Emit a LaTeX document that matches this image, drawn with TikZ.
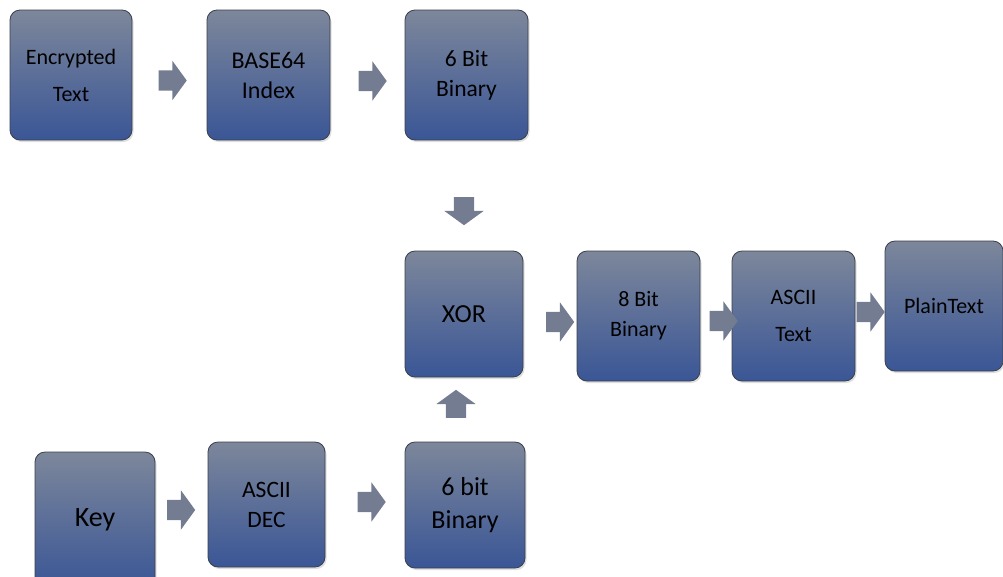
\documentclass[tikz,border=0pt]{standalone}
\usepackage{fontspec}
\setmainfont{Carlito}
\usepackage{xcolor}
\usetikzlibrary{shapes.arrows,shadows}
\definecolor{boxtop}{HTML}{7D879B}
\definecolor{boxbottom}{HTML}{3A5696}
\definecolor{boxline}{HTML}{3A3F4A}
\definecolor{arrowgray}{HTML}{737C90}

\begin{document}
\begin{tikzpicture}[
        x=1pt, y=-1pt,
        box/.style={
            draw=boxline,
            line width=0.8pt,
            rounded corners=10pt,
            top color=boxtop,
            bottom color=boxbottom,
            align=center,
            font=\fontsize{22}{30}\selectfont,
            text=black,
            drop shadow={opacity=0.25, shadow xshift=1.5pt, shadow yshift=-2pt}
        },
        blockarrow/.style={
            single arrow,
            fill=arrowgray,
            draw=none,
            inner sep=0pt,
            minimum height=28pt,
            single arrow head extend=9.5pt,
            single arrow tip angle=108
        }
    ]
        \useasboundingbox (0,0) rectangle (1003,576);

        % top row
        \node[box, minimum width=122pt, minimum height=130pt] (enc) at (71,75)
            {Encrypted\\[7pt]Text};
        \node[box, minimum width=123pt, minimum height=130pt,
            font=\fontsize{24}{30}\selectfont] (base64) at (268.5,75)
            {BASE64\\Index};
        \node[box, minimum width=123pt, minimum height=130pt,
            font=\fontsize{23.5}{30}\selectfont] (bin6) at (466.5,75)
            {6 Bit\\Binary};

        % middle row
        \node[box, minimum width=118pt, minimum height=126pt,
            font=\fontsize{26}{30}\selectfont] (xor) at (464,314) {XOR};
        \node[box, minimum width=123pt, minimum height=130pt] (bin8) at (638.5,316)
            {8 Bit\\Binary};
        \node[box, minimum width=123pt, minimum height=130pt] (asciitext) at (793.5,316)
            {ASCII\\[7pt]Text};
        \node[box, minimum width=118pt, minimum height=130pt] (plain) at (944,306) {PlainText};

        % bottom row
        \node[box, minimum width=120pt, minimum height=136pt,
            font=\fontsize{28}{30}\selectfont] (key) at (95,520) {Key};
        \node[box, minimum width=117pt, minimum height=125pt,
            font=\fontsize{23.5}{30}\selectfont] (asciidec) at (266.5,504.5)
            {ASCII\\DEC};
        \node[box, minimum width=120pt, minimum height=126pt,
            font=\fontsize{26}{33}\selectfont] (bin6key) at (465,505)
            {6 bit\\Binary};

        % block arrows
        \node[blockarrow] (encToBase) at (169,80.5) {\rule{0pt}{20pt}};
        \node[blockarrow] (baseToBin) at (369,81) {\rule{0pt}{20pt}};
        \node[blockarrow, rotate=-90] (binToXor) at (464,207.5) {\rule{0pt}{20pt}};
        \node[blockarrow] (xorToBin) at (556.5,322) {\rule{0pt}{20pt}};
        \node[blockarrow] (binToAscii) at (720,321) {\rule{0pt}{20pt}};
        \node[blockarrow] (asciiToPlain) at (867,312) {\rule{0pt}{20pt}};
        \node[blockarrow, rotate=90] (keyBinToXor) at (456,407.5) {\rule{0pt}{20pt}};
        \node[blockarrow] (keyToDec) at (177.5,510) {\rule{0pt}{20pt}};
        \node[blockarrow] (decToBin) at (368,502) {\rule{0pt}{20pt}};
    \end{tikzpicture}
\end{document}
